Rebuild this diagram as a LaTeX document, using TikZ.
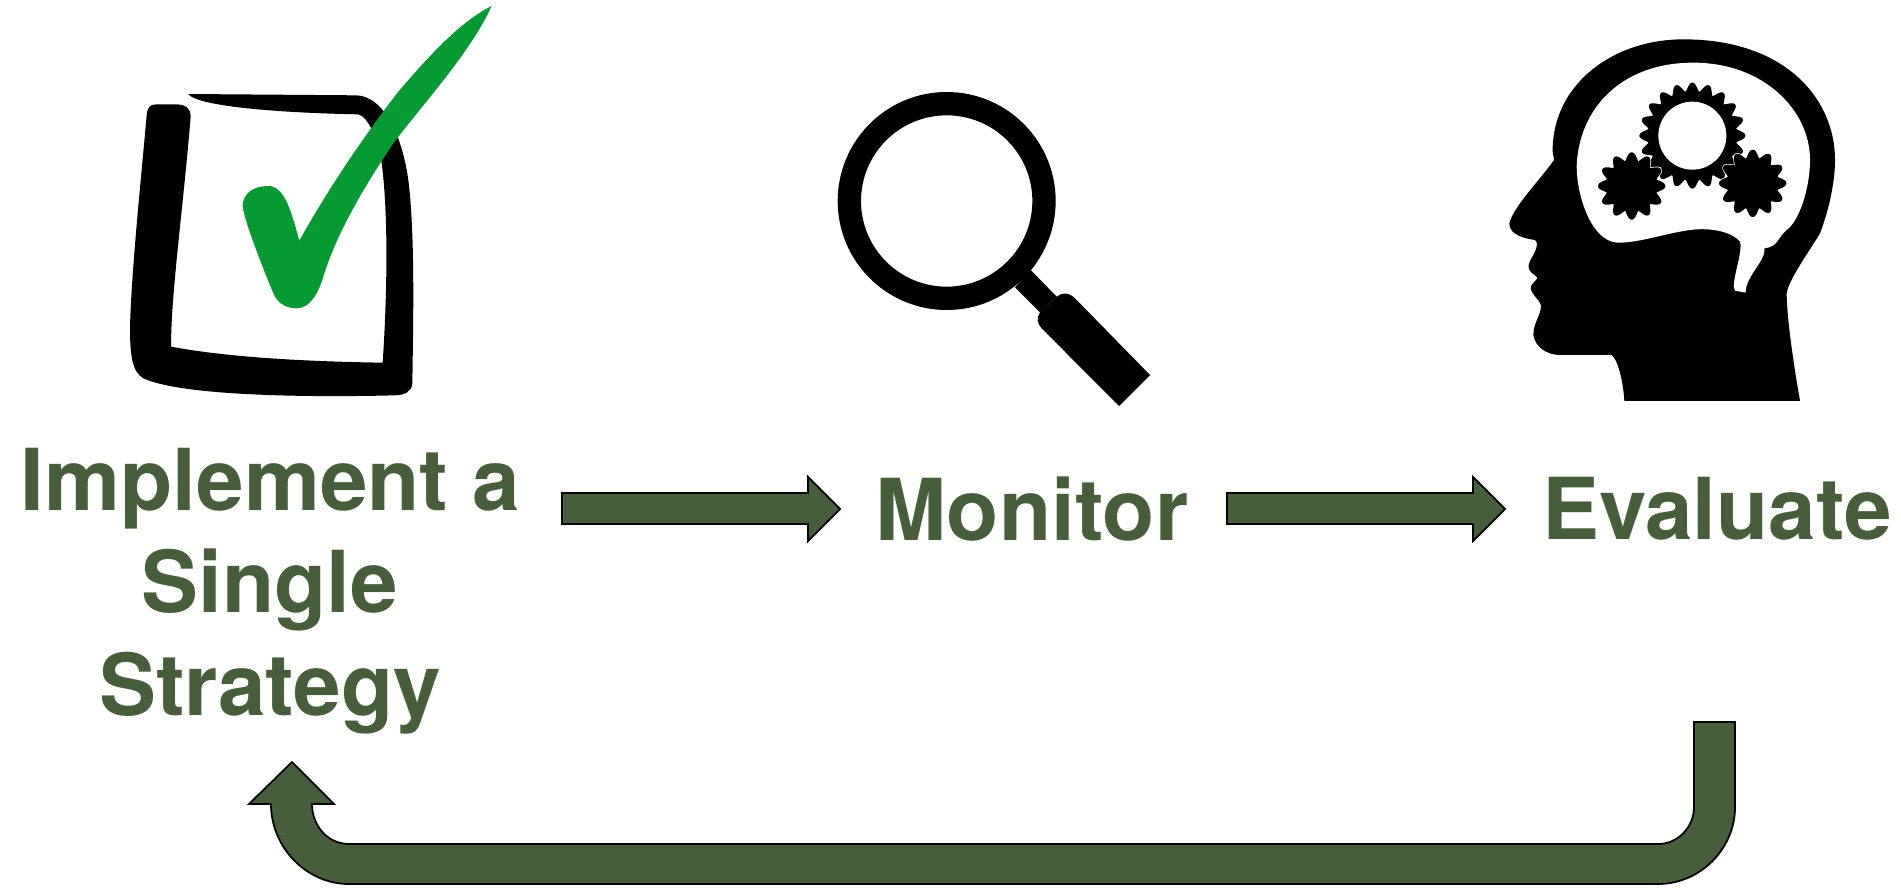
\documentclass[tikz,border=0pt]{standalone}
\usepackage{fontspec}
\usepackage{xcolor}
\usepackage{tikz}
\setmainfont{TeX Gyre Heros}
\definecolor{flowgreen}{HTML}{465E3A}
\definecolor{tickgreen}{HTML}{069A33}

\begin{document}
\begin{tikzpicture}[
        x=0.01cm, y=-0.01cm,
        steplabel/.style={font=\fontsize{24.3}{29.2}\selectfont\bfseries, text=flowgreen, align=center, inner sep=0pt},
        flow/.style={fill=flowgreen, draw=black, line width=0.5pt, line join=miter},
        ink/.style={fill=black},
        gear/.style={fill=black, draw=black, line width=0.6pt, line join=round}
    ]
    \useasboundingbox (0,0) rectangle (1901,888);

    % ============ check box ============
    \begin{scope}[shift={(100,0)}, scale=1/3]
        \fill[ink] (140,345) .. controls (142,322) and (150,313) .. (170,313)
        -- (225,313) .. controls (258,313) and (272,325) .. (272,350)
        .. controls (250,620) and (213,880) .. (213,1040)
        .. controls (400,1075) and (650,1085) .. (848,1088)
        .. controls (862,880) and (865,640) .. (845,490)
        .. controls (835,420) and (805,350) .. (775,343)
        .. controls (600,340) and (300,325) .. (264,282)
        -- (770,286) .. controls (850,290) and (905,400) .. (925,540)
        .. controls (945,700) and (940,950) .. (937,1150)
        .. controls (935,1175) and (915,1185) .. (885,1186)
        .. controls (650,1192) and (250,1190) .. (130,1135)
        .. controls (95,1115) and (90,1060) .. (90,980)
        .. controls (95,800) and (125,520) .. (140,345) -- cycle;
        \fill[tickgreen] (1175,18) .. controls (1080,65) and (985,170) .. (895,275)
        .. controls (810,385) and (700,540) .. (598,722)
        .. controls (575,640) and (555,558) .. (505,558)
        .. controls (460,558) and (428,580) .. (428,620)
        .. controls (435,670) and (495,820) .. (520,880)
        .. controls (535,915) and (565,925) .. (590,925)
        .. controls (630,925) and (655,880) .. (670,830)
        .. controls (700,730) and (765,600) .. (880,430)
        .. controls (970,310) and (1110,160) .. (1175,18) -- cycle;
    \end{scope}

    % ============ magnifier ============
    \begin{scope}[shift={(820,80)}, scale=1/3]
        \fill[ink, even odd rule] (380,363) circle (327) (380,363) circle (257);
        \fill[ink] (632,570) -- (710,650) -- (660,697) -- (585,622) -- cycle;
        \fill[ink] (710,650) .. controls (725,638) and (745,635) .. (765,655)
        -- (990,885) -- (897,978) -- (665,745)
        .. controls (650,730) and (650,712) .. (660,697) -- cycle;
    \end{scope}

    % ============ head with gears ============
    \begin{scope}[shift={(1480,20)}, scale=1/3]
        \fill[ink] (433,1143) -- (960,1143) .. controls (935,1000) and (920,880) .. (920,820)
        .. controls (925,780) and (990,690) .. (1020,640)
        .. controls (1050,560) and (1065,480) .. (1065,420)
        .. controls (1065,240) and (920,58) .. (610,58)
        .. controls (400,58) and (225,190) .. (218,380)
        .. controls (216,400) and (222,410) .. (222,420)
        .. controls (180,480) and (100,560) .. (88,610)
        .. controls (88,635) and (110,652) .. (165,660)
        .. controls (175,665) and (170,685) .. (165,695)
        .. controls (155,715) and (140,735) .. (147,748)
        .. controls (152,760) and (172,768) .. (172,775)
        .. controls (165,785) and (150,795) .. (152,805)
        .. controls (155,825) and (185,845) .. (183,860)
        .. controls (180,890) and (160,910) .. (160,945)
        .. controls (165,980) and (200,1005) .. (240,1005)
        -- (395,1005) .. controls (415,1020) and (430,1090) .. (433,1143) -- cycle;
        \fill[white] (290,440) .. controls (295,270) and (420,128) .. (640,128)
        .. controls (850,128) and (990,270) .. (990,420)
        .. controls (990,500) and (960,600) .. (920,630)
        .. controls (890,655) and (895,680) .. (853,685)
        .. controls (860,720) and (795,770) .. (797,818)
        -- (765,812) .. controls (750,790) and (790,700) .. (780,665)
        .. controls (760,640) and (710,625) .. (650,628)
        .. controls (580,632) and (480,670) .. (410,668)
        .. controls (330,660) and (290,520) .. (290,440) -- cycle;
        % gears
        \draw[gear] plot[domain=0:360, samples=241, smooth] ({637+(143+13*cos(20*\x))*cos(90+\x)}, {347+(143+13*cos(20*\x))*sin(90+\x)}) -- cycle;
        \fill[white] (637,347) circle (102);
        \foreach \gx/\gy in {455/498, 818/490} {
            \draw[white, line width=1pt] plot[domain=0:360, samples=193, smooth] ({\gx+(86+12*cos(12*\x))*cos(90+\x)}, {\gy+(86+12*cos(12*\x))*sin(90+\x)}) -- cycle;
            \draw[gear] plot[domain=0:360, samples=193, smooth] ({\gx+(86+12*cos(12*\x))*cos(90+\x)}, {\gy+(86+12*cos(12*\x))*sin(90+\x)}) -- cycle;
        }
    \end{scope}

    % ============ labels ============
    \node[steplabel] (implement) at (270,591) {Implement a\\Single\\Strategy};
    \node[steplabel] (monitor) at (1032,509) {Monitor};
    \node[steplabel] (evaluate) at (1717,509) {Evaluate};

    % ============ arrows ============
    \draw[flow] (562,493) -- (808,493) -- (808,477) -- (840,509) -- (808,541) -- (808,524) -- (562,524) -- cycle;
    \draw[flow] (1227,493) -- (1473,493) -- (1473,477) -- (1505,509) -- (1473,541) -- (1473,524) -- (1227,524) -- cycle;

    % retour: evaluate back to implement
    \draw[flow] (1694,722) -- (1735,722) -- (1735,807)
    .. controls (1735,849) and (1700,884) .. (1658,884)
    -- (349,884) .. controls (306,884) and (271,847) .. (271,804)
    -- (249,804) -- (292,762) -- (334,804) -- (312,804)
    .. controls (312,826) and (328,844) .. (349,844)
    -- (1658,844) .. controls (1678,844) and (1694,827) .. (1694,807) -- cycle;
\end{tikzpicture}
\end{document}
